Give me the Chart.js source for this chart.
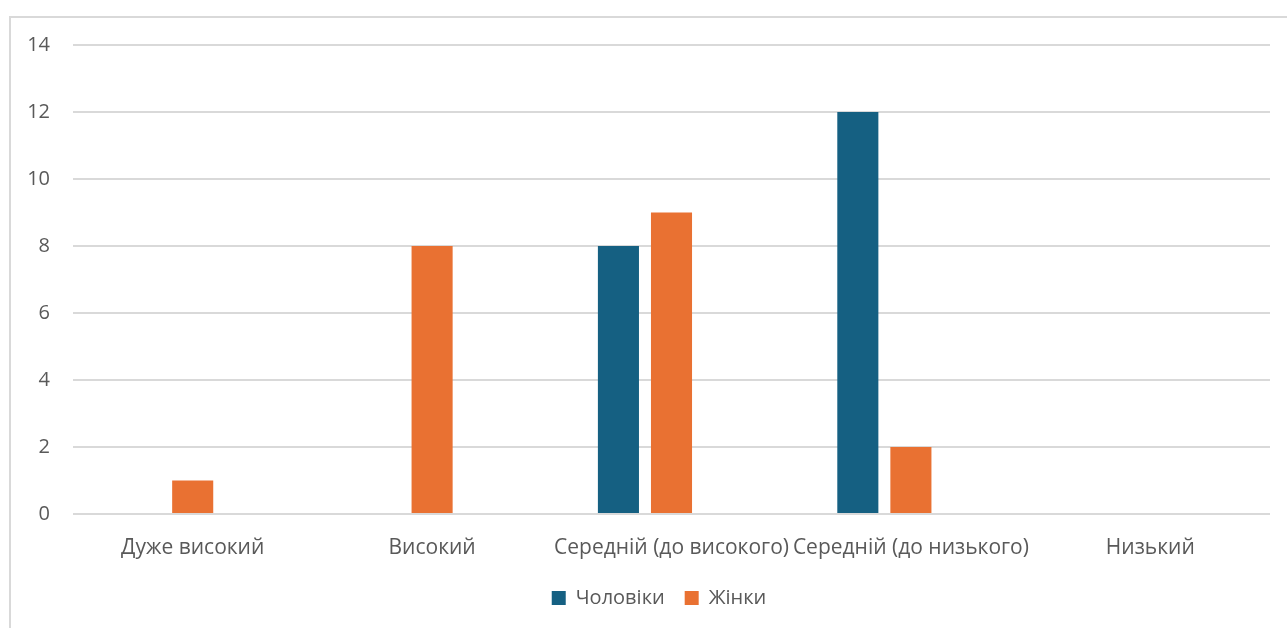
<!DOCTYPE html>
<html>
<head>
<meta charset="utf-8">
<script src="https://cdn.jsdelivr.net/npm/chart.js@4/dist/chart.umd.min.js"></script>
<style>
  html, body { margin: 0; padding: 0; background: #fff; overflow: hidden; }
  #wrap { position: relative; width: 1287px; height: 628px; }
  #frame { position: absolute; left: 9px; top: 16px; width: 1400px; height: 700px;
           border: 2px solid #D9D9D9; box-sizing: border-box; pointer-events: none; }
  canvas { position: absolute; left: 0; top: 0; }
</style>
</head>
<body>
<div id="wrap">
  <canvas id="c" width="1287" height="628"></canvas>
  <div id="frame"></div>
</div>
<script>
const categories = ['Дуже високий', 'Високий', 'Середній (до високого)', 'Середній (до низького)', 'Низький'];
const men = [0, 0, 8, 12, 0];
const women = [1, 8, 9, 2, 0];
const emptySeries = [null, null, null, null, null];
const seriesNames = ['Чоловіки', 'Жінки'];
const yTicks = { min: 0, max: 14, step: 2 };

const FONT = '"Open Sans", "Noto Sans", sans-serif';
const textColor = '#595959';

// nudge the legend right to sit where the original places it
const legendShift = {
  id: 'legendShift',
  afterLayout(chart, args, opts) {
    const lg = chart.legend;
    if (!lg) return;
    lg.left += opts.dx; lg.right += opts.dx;
  }
};

new Chart(document.getElementById('c'), {
  type: 'bar',
  data: {
    labels: categories,
    datasets: [
      { label: seriesNames[0], data: men, backgroundColor: '#156082', borderWidth: 0 },
      { label: seriesNames[1], data: women, backgroundColor: '#E97132', borderWidth: 0 },
      { label: '', data: emptySeries, backgroundColor: 'rgba(0,0,0,0)', borderWidth: 0 }
    ]
  },
  plugins: [legendShift],
  options: {
    responsive: false,
    animation: false,
    devicePixelRatio: 1,
    datasets: { bar: { categoryPercentage: 0.665, barPercentage: 0.774 } },
    layout: { padding: { top: 45, right: 17, bottom: 10, left: 0 } },
    plugins: {
      legendShift: { dx: 24 },
      legend: {
        position: 'bottom',
        labels: {
          filter: (item) => item.text !== '',
          boxWidth: 14, boxHeight: 14, padding: 20,
          color: textColor,
          font: { family: FONT, size: 20 }
        }
      },
      tooltip: { enabled: false }
    },
    scales: {
      x: {
        grid: { display: false, drawTicks: false },
        border: { display: false },
        ticks: { color: textColor, font: { family: FONT, size: 21 }, padding: 21, maxRotation: 0, autoSkip: false },
        afterFit: (s) => { s.height = 54; }
      },
      y: {
        min: yTicks.min, max: yTicks.max,
        grid: { color: '#D9D9D9', lineWidth: 2, drawTicks: false },
        border: { display: false },
        ticks: { stepSize: yTicks.step, color: textColor, font: { family: FONT, size: 20 }, padding: 23 },
        afterFit: (s) => { s.width = 73; }
      }
    }
  }
});
</script>
</body>
</html>
